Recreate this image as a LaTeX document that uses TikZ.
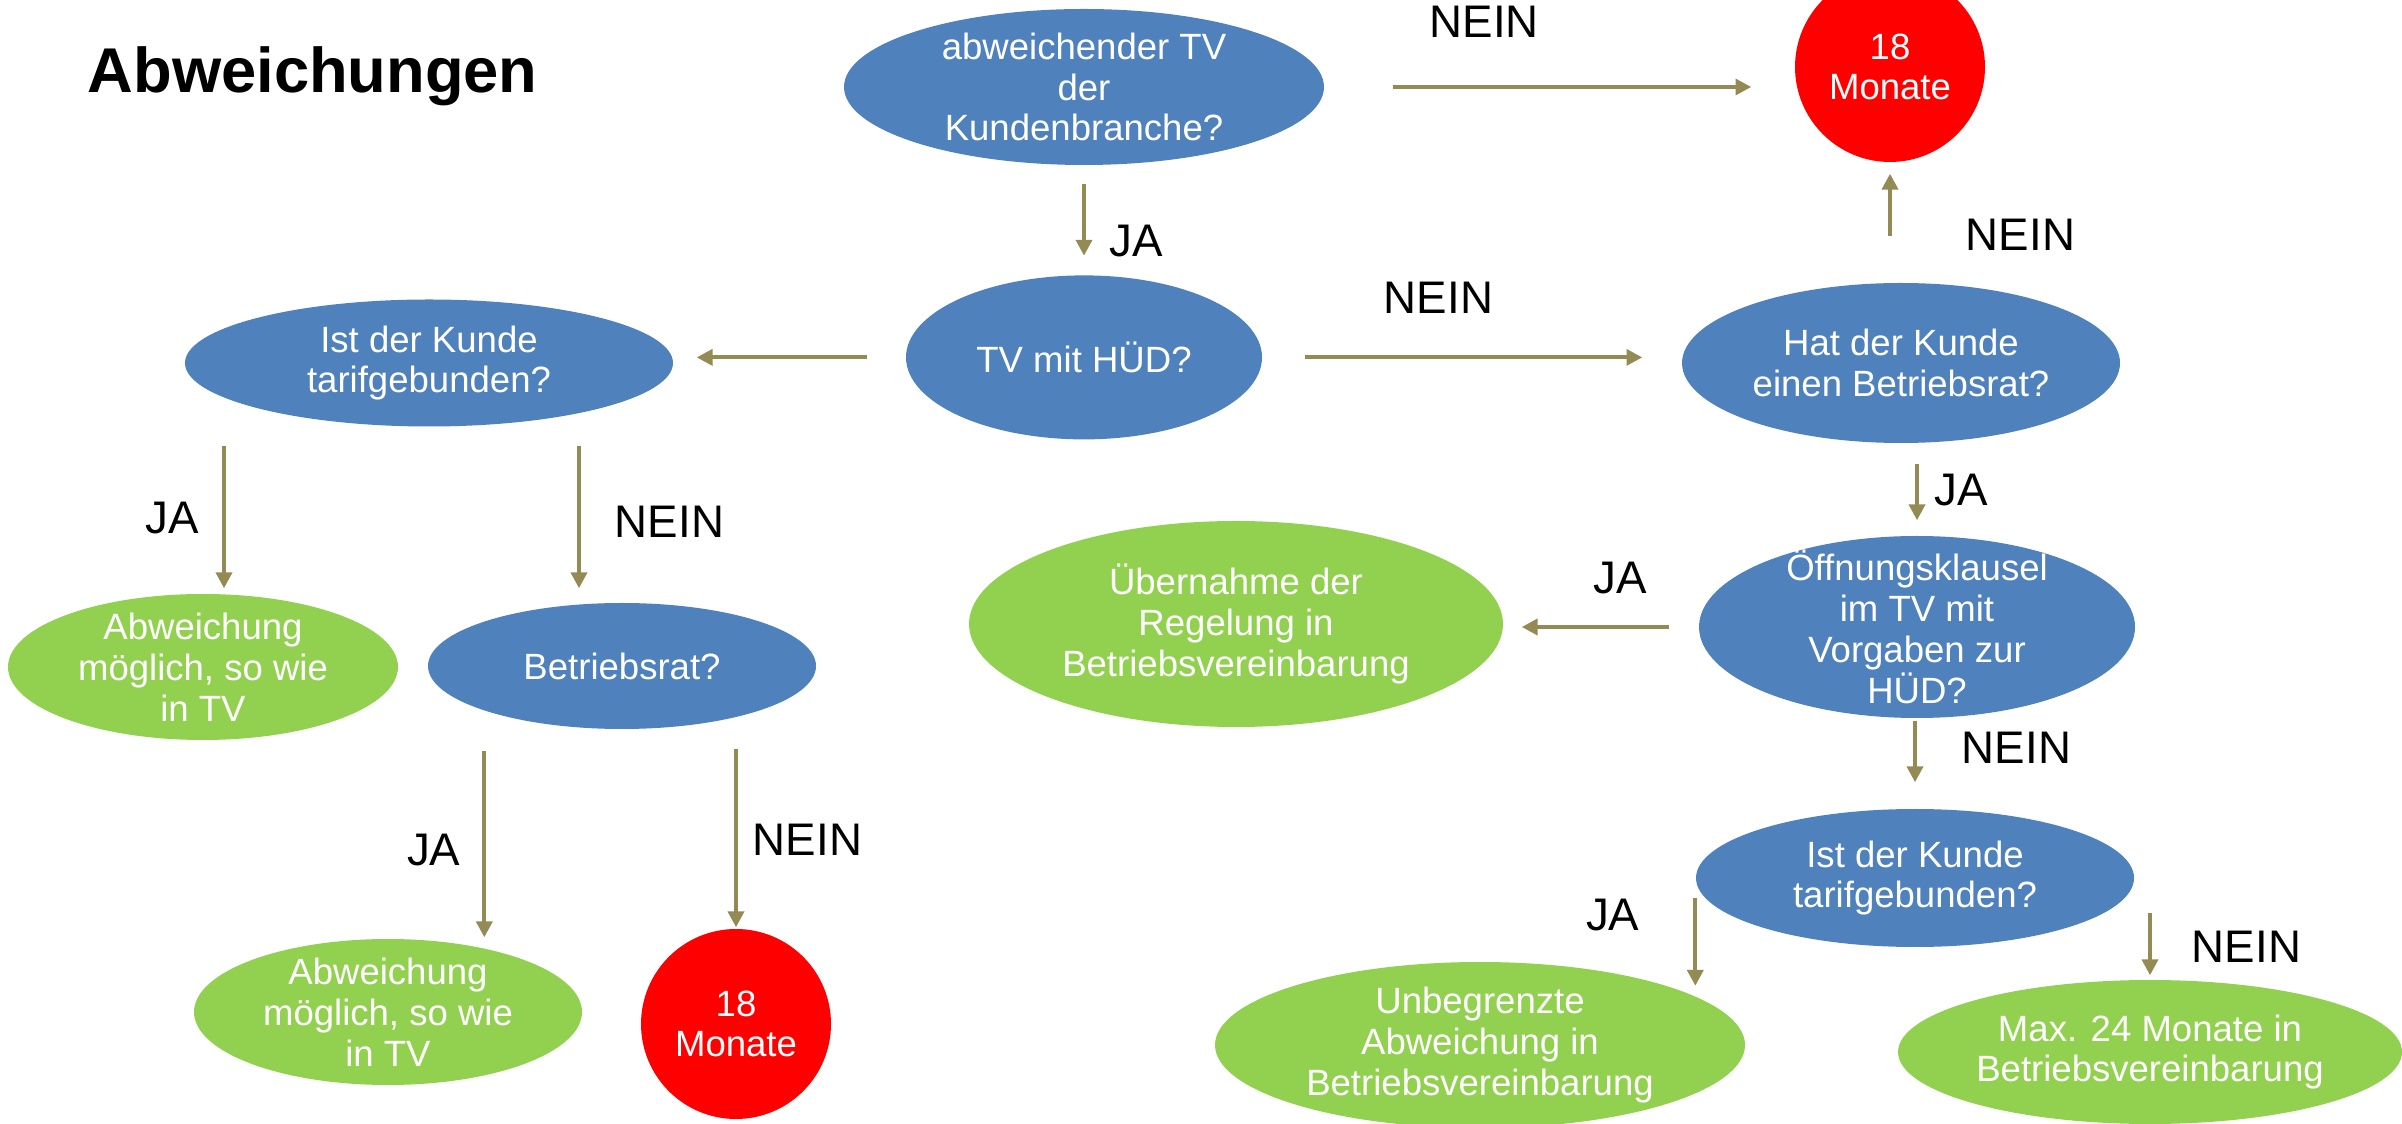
\documentclass[tikz,border=0pt]{standalone}
\usepackage{fontspec}
\setmainfont{Liberation Sans}
\usetikzlibrary{arrows.meta, positioning, shapes.geometric, calc}
\definecolor{cblue}{HTML}{4F81BD}
\definecolor{cgreen}{HTML}{92D050}
\definecolor{cred}{HTML}{FF0000}
\definecolor{colive}{HTML}{948A54}
\tikzset{
  every picture/.style={font=\fontsize{10.4}{11.6}\selectfont},
  oval/.style={ellipse, fill=#1, text=white, align=center, inner sep=-3mm},
  oval/.default=cblue,
  limit/.style={circle, fill=cred, text=white, align=center, inner sep=0pt, minimum size=1.9cm},
  arrow/.style={-{Triangle[length=4.5pt, width=4.5pt]}, draw=colive, line width=1.1pt},
  lbl/.style={font=\fontsize{13}{15}\selectfont, inner sep=0pt},
  title/.style={font=\fontsize{18}{22}\selectfont\bfseries, inner sep=0pt},
}

\begin{document}
\begin{tikzpicture}
  \useasboundingbox (0,0) rectangle (24.02,-11.24);
  \node[title, anchor=west] (ttl) at (0.87,-0.76) {Abweichungen};
  % main branch
  \node[oval, minimum width=4.8cm, minimum height=1.56cm] (kb) at (10.84,-0.87) {abweichender TV\\der\\Kundenbranche?};
  \node[limit] (m1) at (18.90,-0.67) {18\\Monate};
  \node[oval, minimum width=3.56cm, minimum height=1.64cm, below=1.09cm of kb] (hud) {TV mit HÜD?};
  \node[oval, minimum width=4.38cm, minimum height=1.6cm] (hk) at (19.01,-3.63) {Hat der Kunde\\einen Betriebsrat?};
  % left side
  \node[oval, minimum width=4.88cm, minimum height=1.27cm] (tk1) at (4.29,-3.63) {Ist der Kunde\\tarifgebunden?};
  \node[oval=cgreen, minimum width=3.9cm, minimum height=1.46cm] (ab1) at (2.03,-6.67) {Abweichung\\möglich, so wie\\in TV};
  \node[oval, minimum width=3.88cm, minimum height=1.26cm] (br) at (6.22,-6.66) {Betriebsrat?};
  \node[oval=cgreen, minimum width=3.88cm, minimum height=1.46cm] (ab2) at (3.88,-10.12) {Abweichung\\möglich, so wie\\in TV};
  \node[limit] (m2) at (7.36,-10.24) {18\\Monate};
  % right side
  \node[oval, minimum width=4.36cm, minimum height=1.82cm] (ok) at (19.17,-6.27) {Öffnungsklausel\\im TV mit\\Vorgaben zur\\HÜD?};
  \node[oval=cgreen, minimum width=5.34cm, minimum height=2.06cm] (ueb) at (12.36,-6.24) {Übernahme der\\Regelung in\\Betriebsvereinbarung};
  \node[oval, minimum width=4.38cm, minimum height=1.38cm] (tk2) at (19.15,-8.78) {Ist der Kunde\\tarifgebunden?};
  \node[oval=cgreen, minimum width=5.3cm, minimum height=1.66cm] (unb) at (14.80,-10.45) {Unbegrenzte\\Abweichung in\\Betriebsvereinbarung};
  \node[oval=cgreen, minimum width=5.04cm, minimum height=1.44cm] (max) at (21.50,-10.52) {Max. 24 Monate in\\Betriebsvereinbarung};
  % connectors
  \draw[arrow, shorten <=0.68cm, shorten >=0.43cm] (kb.east) -- (kb.east -| m1.west) node[lbl, pos=0.34, above=0.475cm] {NEIN};
  \draw[arrow, shorten <=0.18cm, shorten >=0.19cm] (kb.south) -- (hud.north) node[lbl, pos=0.69, right=0.24cm] {JA};
  \draw[arrow, shorten <=0.42cm, shorten >=0.39cm] (hud.east) -- (hud.east -| hk.west) node[lbl, pos=0.42, above=0.415cm] {NEIN};
  \draw[arrow, shorten <=0.38cm, shorten >=0.23cm] (hud.west) -- (hud.west -| tk1.east);
  \draw[arrow, shorten <=0.46cm, shorten >=0.11cm] (m1.south |- hk.north) -- (m1.south) node[lbl, pos=0.40, right=0.74cm] {NEIN};
  \draw[arrow, shorten <=0.20cm, shorten >=0.15cm] (ok.north |- hk.south) -- (ok.north) node[lbl, pos=0.505, right=0.16cm] {JA};
  \draw[arrow, shorten <=0.29cm, shorten >=0.18cm] (ok.west) -- (ok.west -| ueb.east) node[lbl, pos=0.40, above=0.315cm] {JA};
  \draw[arrow, shorten <=0.02cm, shorten >=0.26cm] (tk2.north |- ok.south) -- (tk2.north) node[lbl, pos=0.33, right=0.45cm] {NEIN};
  \draw[arrow, shorten <=0.20cm] (tk2.west) -- (tk2.west |- unb.north east) node[lbl, pos=0.34, left=0.54cm] {JA};
  \draw[arrow, shorten <=0.35cm, shorten >=0.04cm] (max.north |- tk2.east) -- (max.north) node[lbl, pos=0.68, right=0.40cm] {NEIN};
  \draw[arrow, shorten <=0.185cm, shorten >=0.05cm] ($(ab1.north |- tk1.south)+(0.21,0)$) -- ($(ab1.north)+(0.21,0)$) node[lbl, pos=0.546, left=0.23cm] {JA};
  \draw[arrow, shorten <=0.185cm, shorten >=0.14cm] ($(br.north |- tk1.south)+(-0.43,0)$) -- ($(br.north)+(-0.43,0)$) node[lbl, pos=0.54, right=0.34cm] {NEIN};
  \draw[arrow, shorten <=0.40cm, shorten >=0.01cm] (br.south west) -- (br.south west |- ab2.north) node[lbl, pos=0.61, left=0.22cm] {JA};
  \draw[arrow, shorten <=0.19cm, shorten >=0.01cm] (m2.north |- br.south) -- (m2.north) node[lbl, pos=0.555, right=0.15cm] {NEIN};
\end{tikzpicture}
\end{document}
